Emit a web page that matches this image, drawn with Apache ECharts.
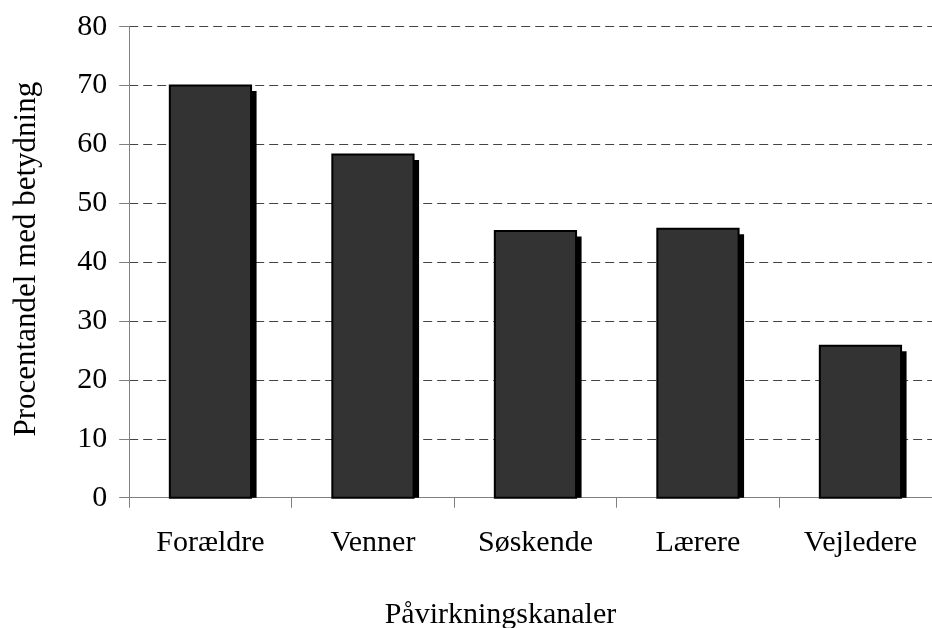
<!DOCTYPE html>
<html>
<head>
<meta charset="utf-8">
<script src="https://cdn.jsdelivr.net/npm/echarts@6/dist/echarts.min.js"></script>
<style>html,body{margin:0;padding:0;background:#fff}#c{width:932px;height:628px}</style>
</head>
<body>
<div id="c"></div>
<script>
const categories = ['Forældre', 'Venner', 'Søskende', 'Lærere', 'Vejledere'];
const values = [70, 58.3, 45.3, 45.7, 25.8];
const yTicks = [0, 10, 20, 30, 40, 50, 60, 70, 80];

const FONT = '"Liberation Serif", "Times New Roman", serif';
const chart = echarts.init(document.getElementById('c'), null, {renderer: 'canvas'});
chart.setOption({
  animation: false,
  backgroundColor: '#fff',
  grid: {left: 129.2, top: 26.7, bottom: 130.3, width: 812.5, containLabel: false, outerBoundsMode: 'none'},
  xAxis: {
    type: 'category',
    data: categories,
    boundaryGap: true,
    name: 'Påvirkningskanaler',
    nameLocation: 'middle',
    nameGap: 102,
    nameTextStyle: {fontFamily: FONT, fontSize: 30, color: '#000', padding: [0, 70, 0, 0]},
    axisLine: {lineStyle: {color: '#808080', width: 1}},
    axisTick: {show: true, length: 10, inside: false, alignWithLabel: false, lineStyle: {color: '#808080'}},
    axisLabel: {fontFamily: FONT, fontSize: 30, color: '#000', margin: 30, interval: 0}
  },
  yAxis: {
    type: 'value',
    min: yTicks[0],
    max: yTicks[yTicks.length - 1],
    interval: 10,
    name: 'Procentandel med betydning',
    nameLocation: 'middle',
    nameGap: 87,
    nameTextStyle: {fontFamily: FONT, fontSize: 31, color: '#000', padding: [0, 0, 0, 6]},
    axisLine: {show: true, lineStyle: {color: '#808080', width: 1}},
    axisTick: {show: true, length: 10, inside: false, lineStyle: {color: '#808080'}},
    axisLabel: {fontFamily: FONT, fontSize: 30, color: '#000', margin: 22},
    splitLine: {show: true, lineStyle: {color: '#444', type: [9, 5], width: 1}}
  },
  series: [{
    type: 'custom',
    data: categories.map((c, i) => [i, values[i]]),
    encode: {x: 0, y: 1},
    renderItem: function (params, api) {
      const idx = api.value(0);
      const top = api.coord([idx, api.value(1)]);
      const base = api.coord([idx, 0]);
      const bw = api.size([1, 0])[0] * 0.5;
      const x = top[0] - bw / 2;
      const h = base[1] - top[1];
      const off = 5.5;
      return {
        type: 'group',
        children: [
          {type: 'rect', shape: {x: x + off, y: top[1] + off, width: bw, height: h - off}, style: {fill: '#000'}},
          {type: 'rect', shape: {x: x, y: top[1], width: bw, height: h}, style: {fill: '#333333', stroke: '#000', lineWidth: 2}}
        ]
      };
    }
  }]
});
</script>
</body>
</html>
